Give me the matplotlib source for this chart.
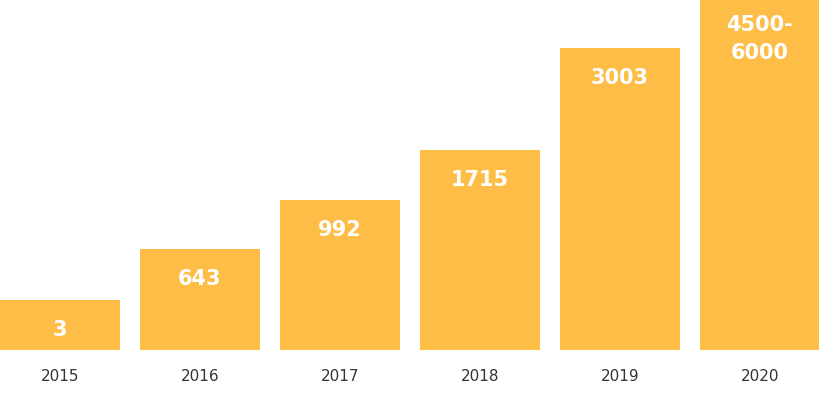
import matplotlib
matplotlib.use("Agg")
from matplotlib import pyplot as plt

years = ["2015", "2016", "2017", "2018", "2019", "2020"]
labels = ["3", "643", "992", "1715", "3003", "4500-\n6000"]
# bar heights as drawn (not proportional to the labels)
heights = [50, 101, 150, 200, 302, 350]

bar_color = "#FEBD46"

fig = plt.figure(figsize=(8.2, 3.98), dpi=100)
ax = fig.add_axes([0, 48 / 398, 1, 350 / 398])

x = list(range(len(years)))
ax.bar(x, heights, width=120 / 140, color=bar_color)
ax.set_xlim(-60 / 140, len(years) - 1 + 60 / 140)
ax.set_ylim(0, 350)

for xi, h, lab in zip(x, heights, labels):
    if "\n" in lab:
        ax.text(xi, h - 39, lab, ha="center", va="center", color="white",
                fontsize=15, fontweight="bold", family="DejaVu Sans",
                linespacing=1.55)
    else:
        ax.text(xi, h - 30, lab, ha="center", va="center", color="white",
                fontsize=15, fontweight="bold", family="DejaVu Sans")

ax.set_xticks(x)
ax.set_xticklabels(years, fontsize=11, color="#333333", family="DejaVu Sans")
ax.tick_params(axis="x", length=0, pad=14)
ax.set_yticks([])
for s in ax.spines.values():
    s.set_visible(False)

plt.savefig("out.png", dpi=100)
